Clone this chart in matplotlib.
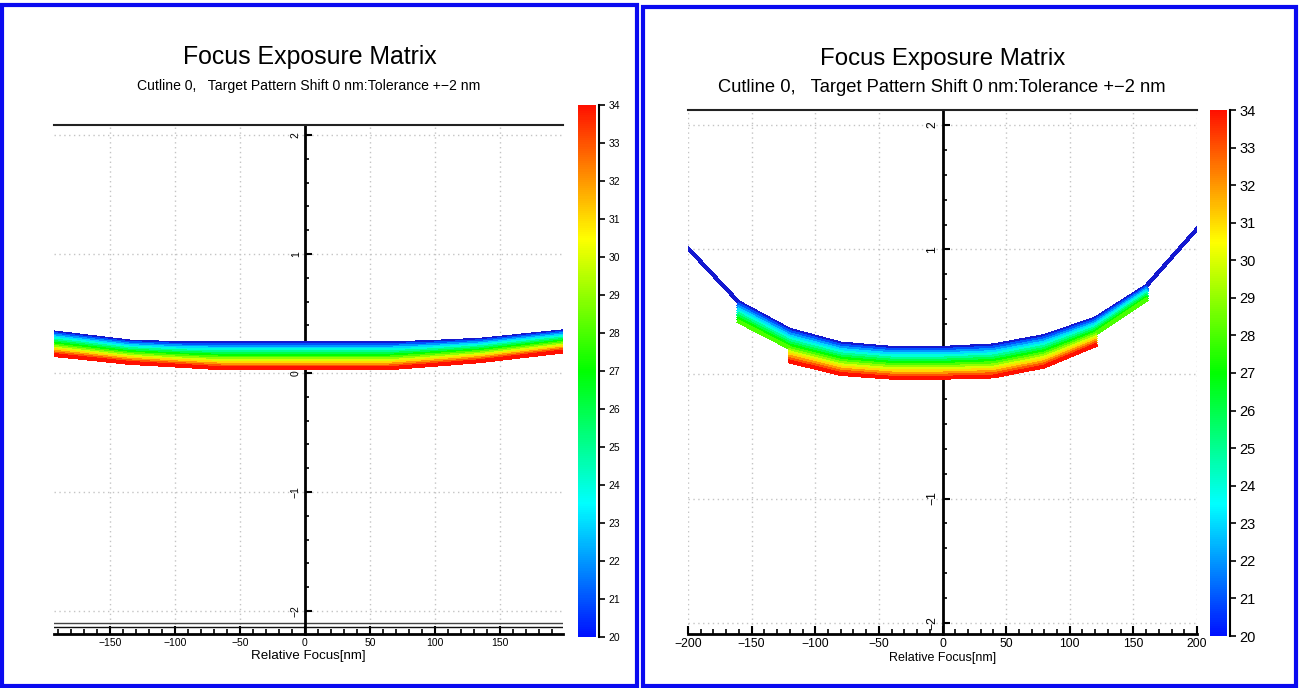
import matplotlib
matplotlib.use('Agg')
import matplotlib.pyplot as plt
import numpy as np
from matplotlib.colors import LinearSegmentedColormap, Normalize
from matplotlib.patches import Rectangle
from matplotlib.ticker import MultipleLocator
from matplotlib.cm import ScalarMappable

plt.rcParams['font.family'] = ['Liberation Sans', 'DejaVu Sans']

title = 'Focus Exposure Matrix'
subtitle = 'Cutline 0,   Target Pattern Shift 0 nm:Tolerance +\u22122 nm'
xlabel = 'Relative Focus[nm]'

doses = [20, 21, 22, 23, 24, 25, 26, 27, 28, 29, 30, 31, 32, 33, 34]

# left chart: pattern shift per dose along focus
left_focus = [-192, -135, -95, -65, 0, 65, 95, 135, 198]
left_shift = [
    [.340, .265, .250, .250, .250, .250, .260, .280, .350],
    [.326, .252, .236, .235, .235, .235, .246, .267, .338],
    [.313, .239, .223, .220, .220, .220, .232, .254, .326],
    [.299, .226, .209, .205, .205, .205, .218, .241, .314],
    [.286, .214, .196, .190, .190, .190, .204, .229, .301],
    [.272, .201, .182, .175, .175, .175, .190, .216, .289],
    [.259, .188, .169, .160, .160, .160, .176, .203, .277],
    [.245, .175, .155, .145, .145, .145, .163, .190, .265],
    [.231, .162, .141, .130, .130, .130, .149, .177, .253],
    [.218, .149, .128, .115, .115, .115, .135, .164, .241],
    [.204, .136, .114, .100, .100, .100, .121, .151, .229],
    [.191, .124, .101, .085, .085, .085, .107, .139, .216],
    [.177, .111, .087, .070, .070, .070, .093, .126, .204],
    [.164, .098, .074, .055, .055, .055, .079, .113, .192],
    [.150, .085, .060, .040, .040, .040, .065, .100, .180],
]

# right chart (nan = no point at that focus)
nan = np.nan
right_focus = [-200, -160, -120, -80, -40, 0, 40, 80, 120, 160, 200]
right_shift = [
    [1.01, .575, .355, .245, .210, .210, .230, .305, .445, .705, 1.165],
    [nan, .556, .337, .228, .193, .193, .212, .288, .430, .691, nan],
    [nan, .536, .319, .210, .176, .176, .194, .270, .414, .678, nan],
    [nan, .517, .300, .193, .159, .159, .176, .253, .399, .664, nan],
    [nan, .497, .282, .175, .141, .141, .159, .235, .384, .650, nan],
    [nan, .478, .264, .158, .124, .124, .141, .218, .368, .636, nan],
    [nan, .459, .246, .140, .107, .107, .123, .200, .353, .623, nan],
    [nan, .439, .228, .123, .090, .090, .105, .183, .338, .609, nan],
    [nan, .420, .209, .105, .073, .073, .087, .165, .322, .595, nan],
    [nan, nan, .191, .088, .056, .056, .069, .148, .307, nan, nan],
    [nan, nan, .173, .070, .039, .039, .051, .130, .291, nan, nan],
    [nan, nan, .155, .053, .021, .021, .034, .113, .276, nan, nan],
    [nan, nan, .137, .035, .004, .004, .016, .095, .261, nan, nan],
    [nan, nan, .118, .018, -.013, -.013, -.002, .078, .245, nan, nan],
    [nan, nan, .100, .000, -.030, -.030, -.020, .060, .230, nan, nan],
]

cmap = LinearSegmentedColormap.from_list(
    'fem', ['#0010ff', '#00ffff', '#00ff00', '#ffff00', '#ff1000'])
norm = Normalize(vmin=20, vmax=34)

W, H = 1299, 688
fig = plt.figure(figsize=(W / 100, H / 100), dpi=100)


def box(x0, y0, x1, y1):
    # pixel box -> figure fraction [left, bottom, width, height]
    return [x0 / W, 1 - y1 / H, (x1 - x0) / W, (y1 - y0) / H]


def draw_panel(ax, cax, focus, shift, xlim, ylim, xticks, fs_tick, fs_label, fs_cbar):
    for dose, row in zip(doses, shift):
        c = cmap(norm(dose))
        if dose == 20:
            c = '#1418d0'
        ax.plot(focus, row, color=c, lw=2.1, zorder=3, antialiased=False)

    ax.set_xlim(xlim)
    ax.set_ylim(ylim)
    ax.set_xticks(xticks)
    ax.xaxis.set_minor_locator(MultipleLocator(10))
    ax.set_yticks([-2, -1, 0, 1, 2])
    ax.yaxis.set_minor_locator(MultipleLocator(0.2))

    ax.spines['left'].set_position(('data', 0))
    ax.spines['left'].set_linewidth(2)
    ax.spines['bottom'].set_linewidth(2)
    ax.spines['right'].set_visible(False)
    ax.spines['top'].set_linewidth(1.5)
    ax.spines['top'].set_color('#222222')

    ax.tick_params(axis='x', which='major', direction='in', length=6, width=1.5,
                   labelsize=fs_tick, pad=3)
    ax.tick_params(axis='x', which='minor', direction='in', length=3.5, width=1.2)
    ax.tick_params(axis='y', which='major', direction='in', length=5, width=1.5,
                   labelsize=fs_tick, labelrotation=90, pad=3)
    ax.tick_params(axis='y', which='minor', direction='in', length=3, width=1.2)
    for lab in ax.get_yticklabels():
        lab.set_verticalalignment('center')

    ax.grid(True, which='major', linestyle=(0, (1, 2.5)), color='#c4c4c4', lw=1)
    ax.set_axisbelow(True)
    ax.set_xlabel(xlabel, fontsize=fs_label, labelpad=1)

    cb = fig.colorbar(ScalarMappable(norm=norm, cmap=cmap), cax=cax)
    cb.outline.set_visible(False)
    cb.set_ticks(list(range(20, 35)))
    cax.spines['right'].set_visible(True)
    cax.spines['right'].set_position(('outward', 2))
    cax.spines['right'].set_linewidth(1.5)
    cax.tick_params(direction='out', length=4, width=1.2, labelsize=fs_cbar, pad=3)


ax_l = fig.add_axes(box(54, 125, 563, 634))
cax_l = fig.add_axes(box(578, 105, 596, 637))
draw_panel(ax_l, cax_l, left_focus, left_shift, (-193, 198.5), (-2.193, 2.084),
           [-150, -100, -50, 0, 50, 100, 150], 7.5, 9.6, 7.5)
ax_l.axhline(-2.10, color='#444444', lw=1, zorder=2)
ax_l.axhline(-2.13, color='#111111', lw=1, zorder=2)

ax_r = fig.add_axes(box(688, 110, 1197, 634))
cax_r = fig.add_axes(box(1210, 110, 1227, 636))
draw_panel(ax_r, cax_r, right_focus, right_shift, (-200, 200), (-2.088, 2.12),
           [-200, -150, -100, -50, 0, 50, 100, 150, 200], 8.8, 9, 10.5)

fig.text(310 / W, 1 - 57 / H, title, ha='center', va='center', fontsize=17.9)
fig.text(309 / W, 1 - 86 / H, subtitle, ha='center', va='center', fontsize=10.1)
fig.text(943 / W, 1 - 59 / H, title, ha='center', va='center', fontsize=17.3)
fig.text(942 / W, 1 - 88 / H, subtitle, ha='center', va='center', fontsize=13.2)

# blue frames round the two panels
blue = '#0a0af0'
fig.add_artist(Rectangle((2 / W, 1 - 685.5 / H), 634.5 / W, 681 / H,
                         transform=fig.transFigure, fill=False, ec=blue, lw=3))
fig.add_artist(Rectangle((643 / W, 1 - 685.5 / H), 652.5 / W, 678.5 / H,
                         transform=fig.transFigure, fill=False, ec=blue, lw=3))

fig.savefig('out.png', dpi=100, facecolor='white')
